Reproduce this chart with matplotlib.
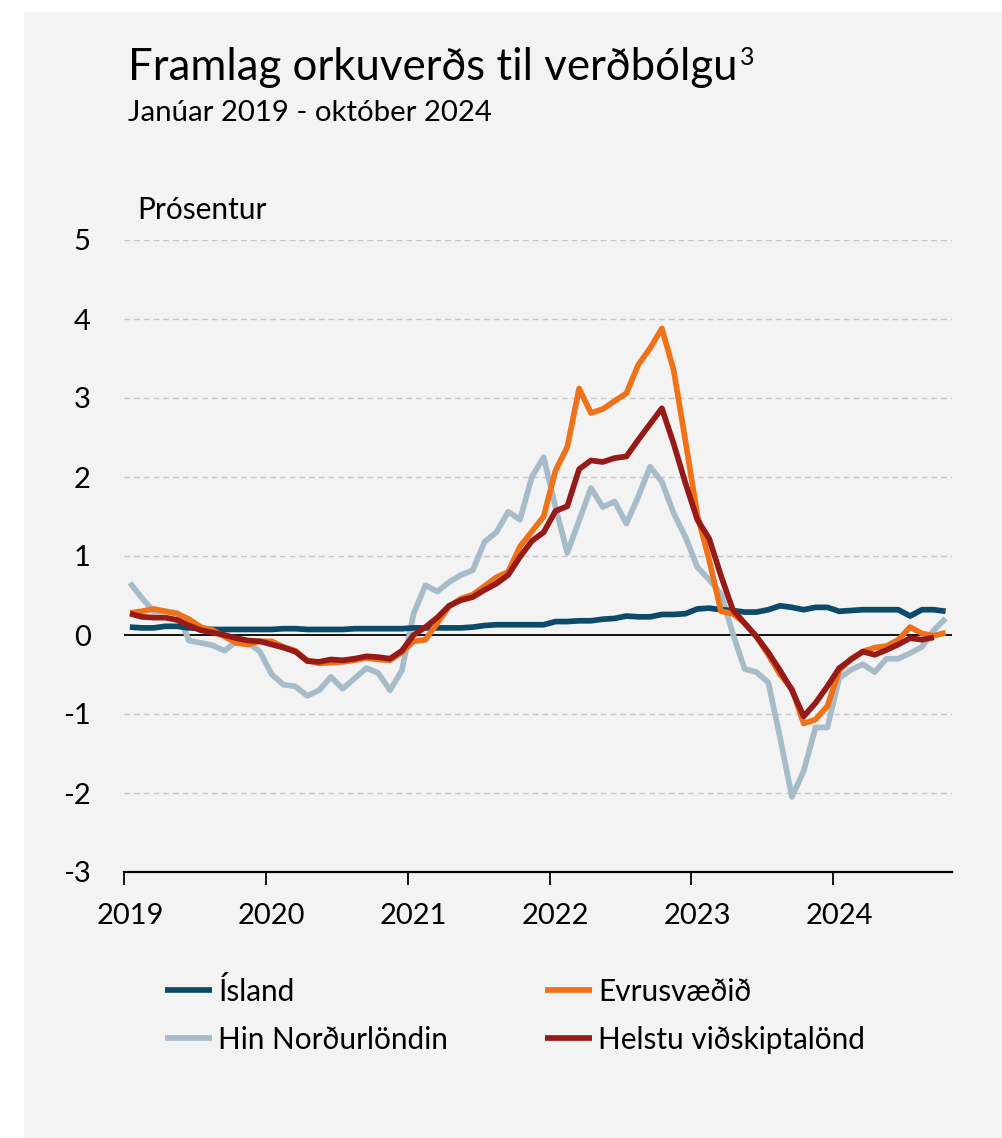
import numpy as np
import matplotlib
matplotlib.use("Agg")
import matplotlib.pyplot as plt
from matplotlib.patches import Rectangle

plt.rcParams['font.family'] = ['Lato', 'DejaVu Sans']

# ---------------- data (monthly, Jan 2019 - Oct 2024) ----------------
year_labels = ['2019', '2020', '2021', '2022', '2023', '2024']
series_names = ['Ísland', 'Evrusvæðið', 'Hin Norðurlöndin', 'Helstu viðskiptalönd']

island = [0.10, 0.09, 0.09, 0.11, 0.11, 0.09, 0.08, 0.07, 0.07, 0.07, 0.07, 0.07,
          0.07, 0.08, 0.08, 0.07, 0.07, 0.07, 0.07, 0.08, 0.08, 0.08, 0.08, 0.08,
          0.09, 0.09, 0.09, 0.09, 0.09, 0.10, 0.12, 0.13, 0.13, 0.13, 0.13, 0.13,
          0.17, 0.17, 0.18, 0.18, 0.20, 0.21, 0.24, 0.23, 0.23, 0.26, 0.26, 0.27,
          0.33, 0.34, 0.32, 0.31, 0.29, 0.29, 0.32, 0.37, 0.35, 0.32, 0.35, 0.35,
          0.30, 0.31, 0.32, 0.32, 0.32, 0.32, 0.24, 0.32, 0.32, 0.30]

evrusvaedid = [0.28, 0.30, 0.33, 0.30, 0.27, 0.20, 0.10, 0.06, -0.02, -0.10, -0.12, -0.08,
               -0.08, -0.15, -0.20, -0.32, -0.36, -0.35, -0.34, -0.32, -0.29, -0.31, -0.32, -0.22,
               -0.08, -0.06, 0.15, 0.36, 0.46, 0.51, 0.62, 0.73, 0.80, 1.12, 1.31, 1.50,
               2.08, 2.38, 3.12, 2.81, 2.86, 2.96, 3.06, 3.42, 3.63, 3.88, 3.35, 2.45,
               1.52, 0.95, 0.30, 0.27, 0.15, -0.02, -0.25, -0.50, -0.68, -1.12, -1.07, -0.90,
               -0.45, -0.30, -0.21, -0.16, -0.14, -0.06, 0.10, 0.02, -0.01, 0.03]

nordurlond = [0.66, 0.47, 0.30, 0.30, 0.28, -0.07, -0.10, -0.13, -0.20, -0.08, -0.10, -0.21,
              -0.50, -0.63, -0.65, -0.77, -0.70, -0.53, -0.68, -0.55, -0.42, -0.48, -0.70, -0.45,
              0.27, 0.63, 0.55, 0.67, 0.76, 0.82, 1.18, 1.30, 1.56, 1.46, 2.00, 2.25,
              1.62, 1.04, 1.45, 1.86, 1.62, 1.69, 1.41, 1.75, 2.13, 1.94, 1.54, 1.24,
              0.86, 0.70, 0.52, 0.02, -0.43, -0.47, -0.60, -1.30, -2.05, -1.72, -1.17, -1.17,
              -0.55, -0.44, -0.37, -0.47, -0.30, -0.30, -0.23, -0.15, 0.06, 0.21]

vidskiptalond = [0.27, 0.23, 0.22, 0.22, 0.19, 0.12, 0.06, 0.03, 0.00, -0.04, -0.07, -0.08,
                 -0.12, -0.16, -0.21, -0.33, -0.34, -0.31, -0.32, -0.30, -0.27, -0.28, -0.30, -0.20,
                 0.00, 0.10, 0.22, 0.37, 0.44, 0.48, 0.57, 0.65, 0.76, 0.99, 1.19, 1.30,
                 1.57, 1.63, 2.10, 2.21, 2.19, 2.24, 2.26, 2.47, 2.67, 2.87, 2.42, 1.92,
                 1.46, 1.22, 0.75, 0.32, 0.15, -0.02, -0.22, -0.45, -0.70, -1.03, -0.86, -0.65,
                 -0.42, -0.31, -0.21, -0.25, -0.19, -0.12, -0.04, -0.06, -0.03, np.nan]

colors = ['#0b4b69', '#ef7218', '#a6bcc8', '#961b18']

# ---------------- figure ----------------
W, H = 1002, 1138
fig = plt.figure(figsize=(W / 100, H / 100), dpi=100)
fig.patch.set_facecolor('white')
fig.add_artist(Rectangle((24 / W, 0), 1 - 24 / W, 1 - 12 / H, transform=fig.transFigure,
                         facecolor='#f3f3f3', edgecolor='none', zorder=-10))

def fx(px):
    return px / W

def fy(py):
    return 1 - py / H

ax = fig.add_axes([fx(124), fy(872), (951.5 - 124) / W, (872 - 240) / H])
ax.set_facecolor('none')

n = len(island)
x = np.arange(n)
order = [(nordurlond, 2), (island, 0), (evrusvaedid, 1), (vidskiptalond, 3)]
lines = {}
for data, ci in order:
    ln, = ax.plot(x, data, color=colors[ci], lw=4.1, solid_joinstyle='round',
                  solid_capstyle='butt', label=series_names[ci], zorder=3)
    lines[ci] = ln

ax.set_xlim(-0.5, n - 0.5)
ax.set_ylim(-3, 5)

# grid
for v in [-2, -1, 1, 2, 3, 4, 5]:
    ax.axhline(v, color='#c6c6c6', lw=1.0, ls=(0, (4, 3)), zorder=1)
ax.axhline(0, color='black', lw=1.3, zorder=2)

for s in ['top', 'right', 'left']:
    ax.spines[s].set_visible(False)
ax.spines['bottom'].set_linewidth(1.6)

ax.set_yticks([-3, -2, -1, 0, 1, 2, 3, 4, 5])
ax.set_yticklabels(['-3', '-2', '-1', '0', '1', '2', '3', '4', '5'])
ax.tick_params(axis='y', length=0, pad=24, labelsize=21)

major = [-0.5 + 12 * k for k in range(6)]
ax.set_xticks(major)
ax.set_xticklabels([''] * len(major))
ax.set_xticks([12 * k for k in range(6)], minor=True)
ax.set_xticklabels(year_labels, minor=True)
ax.tick_params(axis='x', which='major', length=9, width=1.3, direction='out')
ax.tick_params(axis='x', which='minor', length=0, pad=22, labelsize=21)

# texts
t = fig.text(fx(128), fy(80), 'Framlag orkuverðs til verðbólgu', fontsize=31.5,
             va='baseline', ha='left')
ax.annotate('3', xy=(1.0, 1.0), xycoords=t, xytext=(1.5, 1), textcoords='offset points',
            fontsize=18, va='top', ha='left', annotation_clip=False)
fig.text(fx(128), fy(121), 'Janúar 2019 - október 2024', fontsize=21.2,
         va='baseline', ha='left')
fig.text(fx(137), fy(219), 'Prósentur', fontsize=21.5, va='baseline', ha='left')

handles = [lines[0], lines[2], lines[1], lines[3]]
leg = fig.legend(handles=handles, labels=[h.get_label() for h in handles], ncol=2,
                 loc='upper left', bbox_to_anchor=(fx(153), fy(965)), frameon=False,
                 fontsize=21.4, handlelength=1.58, handletextpad=0.22, columnspacing=3.25,
                 labelspacing=0.66, borderaxespad=0)

fig.savefig('out.png', dpi=100, facecolor=fig.get_facecolor())
